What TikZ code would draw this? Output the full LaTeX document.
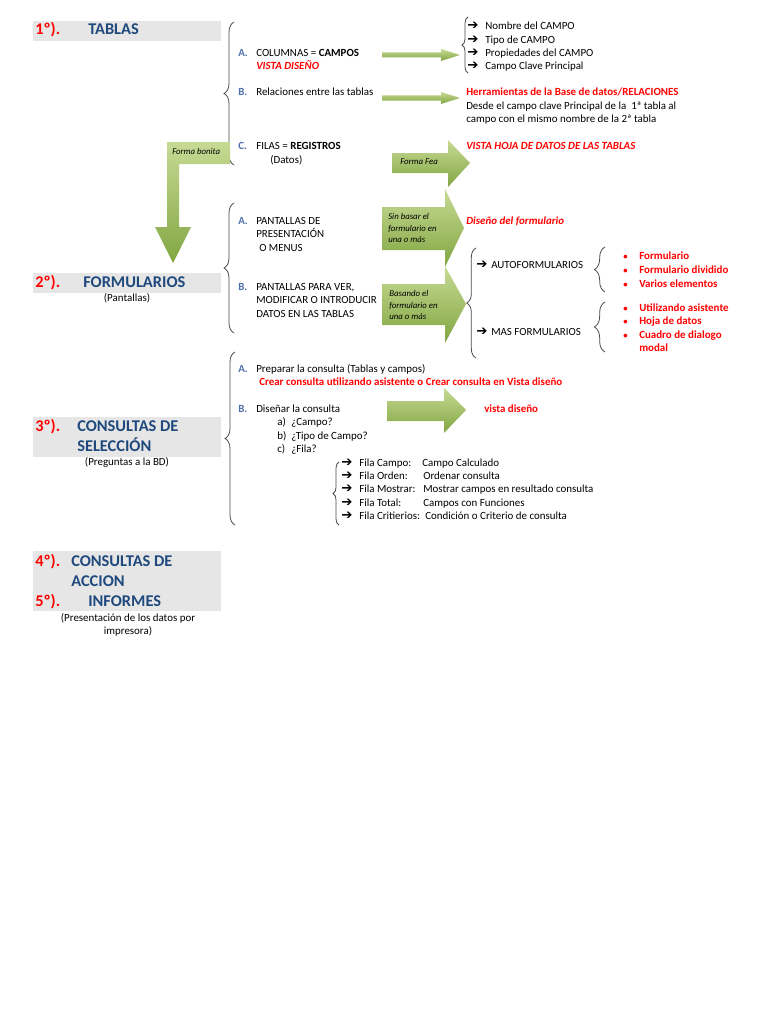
\documentclass[tikz,border=0pt]{standalone}
\usepackage{fontspec}
\setmainfont{Carlito}
\newfontfamily\arrfont{DejaVu Sans}
\usetikzlibrary{decorations.pathreplacing}
\definecolor{hblue}{RGB}{31,73,125}
\definecolor{lblue}{RGB}{79,112,175}
\definecolor{hred}{RGB}{255,0,0}
\definecolor{gbox}{RGB}{230,230,230}
\definecolor{gdark}{RGB}{130,166,66}
\definecolor{glight}{RGB}{198,218,148}
\tikzset{
  txt/.style={anchor=west, inner sep=0pt, font=\fontsize{8.2}{10}\selectfont, text height=5.6pt, text depth=1.6pt},
  btxt/.style={txt, font=\fontsize{8.2}{10}\selectfont\bfseries},
  rtxt/.style={txt, text=hred, font=\fontsize{8.2}{10}\selectfont\bfseries},
  ritxt/.style={txt, text=hred, font=\fontsize{8.2}{10}\selectfont\bfseries\itshape},
  lbl/.style={txt, text=lblue, font=\fontsize{8.2}{10}\selectfont\bfseries},
  ctxt/.style={txt, anchor=center},
  head/.style={anchor=west, inner sep=0pt, font=\fontsize{12.3}{14}\selectfont\bfseries, text=hblue, text height=8.5pt, text depth=2.5pt},
  headnum/.style={head, text=hred},
  greybox/.style={fill=gbox, draw=none},
  brc/.style={decorate, decoration={brace, amplitude=#1}, draw=black!70, line width=0.6pt},
  garrow/.style={top color=glight, bottom color=gdark, draw=none},
  atxt/.style={anchor=west, inner sep=0pt, font=\fontsize{6.6}{8.6}\selectfont\itshape, align=left, text=black},
  arr/.style={anchor=west, inner sep=0pt, font=\fontsize{10}{10}\selectfont\arrfont\bfseries, text height=5.6pt, text depth=1.6pt},
  bul/.style={txt, text=hred, font=\fontsize{6.5}{10}\selectfont\bfseries}
}
\begin{document}
\begin{tikzpicture}[x=0.75pt,y=-0.75pt]
\useasboundingbox (0,0) rectangle (768,1024);
\fill[white] (0,0) rectangle (768,1024);

% grey heading boxes
\fill[greybox] (33,21) rectangle (221,41);
\fill[greybox] (33,273) rectangle (221,293);
\fill[greybox] (33,417) rectangle (221,457);
\fill[greybox] (33,551) rectangle (221,611);

% headings
\node[headnum] (h1n) at (35,31) {1º).};
\node[head] (h1) at (88,31) {TABLAS};
\node[headnum] (h2n) at (35,283) {2º).};
\node[head] (h2) at (83,283) {FORMULARIOS};
\node[ctxt] (h2s) at (127,299) {(Pantallas)};
\node[headnum] (h3n) at (35,427) {3º).};
\node[head] (h3) at (77,427) {CONSULTAS DE};
\node[head] (h3b) at (77,447) {SELECCIÓN};
\node[ctxt] (h3s) at (127,463) {(Preguntas a la BD)};
\node[headnum] (h4n) at (35,562) {4º).};
\node[head] (h4) at (71,562) {CONSULTAS DE};
\node[head] (h4b) at (71,582) {ACCION};
\node[headnum] (h5n) at (35,602) {5º).};
\node[head] (h5) at (88,602) {INFORMES};
\node[ctxt] (h5s) at (128,619) {(Presentación de los datos por};
\node[ctxt] (h5t) at (128,632) {impresora)};

% big braces
\draw[brc=7.5pt] (234,165) -- (234,22);
\draw[brc=7.5pt] (234,333) -- (234,203);
\draw[brc=7.5pt] (235,525) -- (235,352);

% Forma bonita bent arrow
\path[garrow] (167,142) -- (230,142) -- (230,164) -- (179,164) -- (179,227) -- (191,227) -- (173,263) -- (155,227) -- (167,227) -- cycle;
\node[atxt] (fb) at (172,151) {Forma bonita};

% section 1 items
\node[lbl] (a1) at (238,54) {A.};
\node[txt] (colA) at (256,54) {COLUMNAS = \textbf{CAMPOS}};
\node[ritxt] (vd) at (256,67) {VISTA DISEÑO};
\node[lbl] (b1) at (238,93) {B.};
\node[txt] (relB) at (256,93) {Relaciones entre las tablas};
\node[lbl] (c1) at (238,147) {C.};
\node[txt] (filC) at (256,147) {FILAS = \textbf{REGISTROS}};
\node[txt] (dat) at (270,161) {(Datos)};

% thin arrows
\path[garrow] (382,52.5) -- (441,52.5) -- (441,49) -- (460,55) -- (441,61) -- (441,57.5) -- (382,57.5) -- cycle;
\path[garrow] (382,95.5) -- (441,95.5) -- (441,92) -- (460,98) -- (441,104) -- (441,100.5) -- (382,100.5) -- cycle;

% fields list
\draw[brc=4.5pt] (468,73) -- (468,17);
\node[arr] (f1a) at (467,27) {➔};
\node[txt] (f1) at (485,27) {Nombre del CAMPO};
\node[arr] (f2a) at (467,41) {➔};
\node[txt] (f2) at (485,41) {Tipo de CAMPO};
\node[arr] (f3a) at (467,54) {➔};
\node[txt] (f3) at (485,54) {Propiedades del CAMPO};
\node[arr] (f4a) at (467,67) {➔};
\node[txt] (f4) at (485,67) {Campo Clave Principal};

\node[rtxt] (herr) at (466,93) {Herramientas de la Base de datos/RELACIONES};
\node[txt] (des1) at (466,107) {Desde el campo clave Principal de la\ \ 1ª tabla al};
\node[txt] (des2) at (466,120) {campo con el mismo nombre de la 2ª tabla};

% Forma Fea arrow
\path[garrow] (392,153) -- (448,153) -- (448,140) -- (470,163) -- (448,187) -- (448,173) -- (392,173) -- cycle;
\node[atxt] (ff) at (400,162) {Forma Fea};
\node[ritxt] (vhd) at (466,147) {VISTA HOJA DE DATOS DE LAS TABLAS};

% section 2 items
\node[lbl] (a2) at (238,222) {A.};
\node[txt] (p1) at (256,222) {PANTALLAS DE};
\node[txt] (p2) at (256,235) {PRESENTACIÓN};
\node[txt] (p3) at (259,249) {O MENUS};
\node[lbl] (b2) at (238,288) {B.};
\node[txt] (q1) at (256,288) {PANTALLAS PARA VER,};
\node[txt] (q2) at (256,301) {MODIFICAR O INTRODUCIR};
\node[txt] (q3) at (256,315) {DATOS EN LAS TABLAS};

% Sin basar arrow
\path[garrow] (382,207) -- (445,207) -- (445,189) -- (464,228) -- (445,267) -- (445,250) -- (382,250) -- cycle;
\node[atxt] (sb) at (388,228) {Sin basar el\\formulario en\\una o más};
\node[ritxt] (dform) at (466,222) {Diseño del formulario};

% Basando arrow
\path[garrow] (382,284) -- (445,284) -- (445,266) -- (466,304) -- (445,343) -- (445,325) -- (382,325) -- cycle;
\node[atxt] (ba) at (389,305) {Basando el\\formulario en\\una o más};

% auto / mas formularios
\draw[brc=7pt] (476,358) -- (476,248);
\node[arr] (au_a) at (476,266) {➔};
\node[txt] (au) at (491,266) {AUTOFORMULARIOS};
\node[arr] (ma_a) at (476,333) {➔};
\node[txt] (ma) at (491,333) {MAS FORMULARIOS};

\draw[brc=8pt] (605,292) -- (605,247);
\draw[brc=8pt] (605,352) -- (605,302);
\node[bul] (b_1) at (623,257) {•};
\node[rtxt] (l1) at (639,257) {Formulario};
\node[bul] (b_2) at (623,271) {•};
\node[rtxt] (l2) at (639,271) {Formulario dividido};
\node[bul] (b_3) at (623,285) {•};
\node[rtxt] (l3) at (639,285) {Varios elementos};
\node[bul] (b_4) at (623,309) {•};
\node[rtxt] (l4) at (639,309) {Utilizando asistente};
\node[bul] (b_5) at (623,322) {•};
\node[rtxt] (l5) at (639,322) {Hoja de datos};
\node[bul] (b_6) at (623,336) {•};
\node[rtxt] (l6) at (639,336) {Cuadro de dialogo};
\node[rtxt] (l7) at (639,349) {modal};

% section 3 items
\node[lbl] (a3) at (238,370) {A.};
\node[txt] (prep) at (256,370) {Preparar la consulta (Tablas y campos)};
\node[rtxt] (crear) at (259,383) {Crear consulta utilizando asistente o Crear consulta en Vista diseño};
\node[lbl] (b3) at (238,410) {B.};
\node[txt] (dis) at (256,410) {Diseñar la consulta};
\node[txt] (qa) at (277,423) {a)};
\node[txt] (qat) at (291,423) {¿Campo?};
\node[txt] (qb) at (277,437) {b)};
\node[txt] (qbt) at (291,437) {¿Tipo de Campo?};
\node[txt] (qc) at (277,450) {c)};
\node[txt] (qct) at (291,450) {¿Fila?};

\path[garrow] (387,401) -- (444,401) -- (444,388) -- (466,410) -- (444,433) -- (444,421) -- (387,421) -- cycle;
\node[rtxt] (vdis) at (484,410) {vista diseño};

% fila list
\draw[brc=4.5pt] (339,525) -- (339,462);
\node[arr] (r1a) at (341,464) {➔};
\node[txt] (r1) at (359,464) {Fila Campo:};
\node[txt] (r1b) at (422,464) {Campo Calculado};
\node[arr] (r2a) at (341,477) {➔};
\node[txt] (r2) at (359,477) {Fila Orden:};
\node[txt] (r2b) at (423,477) {Ordenar consulta};
\node[arr] (r3a) at (341,490) {➔};
\node[txt] (r3) at (359,490) {Fila Mostrar:};
\node[txt] (r3b) at (423,490) {Mostrar campos en resultado consulta};
\node[arr] (r4a) at (341,504) {➔};
\node[txt] (r4) at (359,504) {Fila Total:};
\node[txt] (r4b) at (423,504) {Campos con Funciones};
\node[arr] (r5a) at (341,517) {➔};
\node[txt] (r5) at (359,517) {Fila Critierios:};
\node[txt] (r5b) at (425,517) {Condición o Criterio de consulta};
\end{tikzpicture}
\end{document}
